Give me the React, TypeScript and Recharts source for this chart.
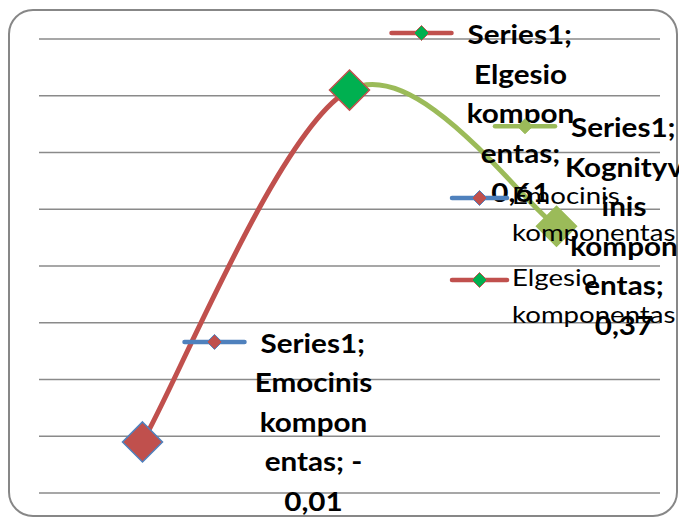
import React from "react";
import { LineChart, Line, XAxis, YAxis, CartesianGrid, LabelList, Legend } from "recharts";

const seriesName = "Series1";
const categories = ["Emocinis komponentas", "Elgesio komponentas", "Kognityvinis komponentas"];
const values = [-0.01, 0.61, 0.37];
const yTicks = [-0.1, 0, 0.1, 0.2, 0.3, 0.4, 0.5, 0.6, 0.7];
const labelLines = [
  [seriesName + ";", "Emocinis", "kompon", "entas; -", "0,01"],
  [seriesName + ";", "Elgesio", "kompon", "entas;", "0,61"],
  [seriesName + ";", "Kognityv", "inis", "kompon", "entas;", "0,37"],
];
const legendLines = [
  ["Emocinis", "komponentas"],
  ["Elgesio", "komponentas"],
];

const pointFill = ["#C0504D", "#00B050", "#9BBB59"];
const pointStroke = ["#4F81BD", "#C0504D", "#9BBB59"];
const keyLine = ["#4F81BD", "#C0504D", "#9BBB59"];

const W = 679;
const H = 517;
const FONT = "Lato, Carlito, Calibri, sans-serif";

const data = categories.map((name, i) => ({ name, value: values[i] }));

// Excel-like smoothing (Catmull-Rom style bezier, k = 1/6)
const excelCurve = (context: any) => {
  let pts: number[][] = [];
  return {
    areaStart() {},
    areaEnd() {},
    lineStart() {
      pts = [];
    },
    point(x: number, y: number) {
      pts.push([+x, +y]);
    },
    lineEnd() {
      if (!pts.length) return;
      const k = 1 / 6;
      context.moveTo(pts[0][0], pts[0][1]);
      for (let i = 0; i < pts.length - 1; i++) {
        const p0 = pts[i - 1] || pts[i];
        const p1 = pts[i];
        const p2 = pts[i + 1];
        const p3 = pts[i + 2] || p2;
        context.bezierCurveTo(
          p1[0] + (p2[0] - p0[0]) * k,
          p1[1] + (p2[1] - p0[1]) * k,
          p2[0] - (p3[0] - p1[0]) * k,
          p2[1] - (p3[1] - p1[1]) * k,
          p2[0],
          p2[1]
        );
      }
    },
  };
};

const diamond = (cx: number, cy: number, r: number) =>
  `${cx},${cy - r} ${cx + r},${cy} ${cx},${cy + r} ${cx - r},${cy}`;

const SText = ({ x, y, anchor, sx, weight, size, children }: any) => (
  <text
    transform={`translate(${x} ${y}) scale(${sx} 1)`}
    textAnchor={anchor}
    fontFamily={FONT}
    fontWeight={weight}
    fontSize={size}
    fill="#000"
  >
    {children}
  </text>
);

const renderDot = (props: any) => {
  const { cx, cy, index } = props;
  return (
    <polygon
      key={`dot-${index}`}
      points={diamond(cx, cy, 20)}
      fill={pointFill[index]}
      stroke={pointStroke[index]}
      strokeWidth={1.5}
    />
  );
};

const renderLabel = (props: any) => {
  const { x, y, index } = props;
  const keyX = Math.min(x + 42, W - 184);
  const keyY = Math.max(y - 100, 33);
  const lines = labelLines[index];
  return (
    <g key={`lbl-${index}`}>
      <line x1={keyX} x2={keyX + 60} y1={keyY} y2={keyY} stroke={keyLine[index]} strokeWidth={4.5} strokeLinecap="round" />
      <polygon points={diamond(keyX + 30, keyY, 7.5)} fill={pointFill[index]} stroke={pointStroke[index]} strokeWidth={1} />
      {lines.map((t, i) =>
        i === 0 ? (
          <SText key={i} x={keyX + 76} y={keyY + 11} anchor="start" sx={1.14} weight="bold" size={26}>
            {t}
          </SText>
        ) : (
          <SText key={i} x={keyX + 129} y={keyY + 11 + i * 39.5} anchor="middle" sx={1.14} weight="bold" size={26}>
            {t}
          </SText>
        )
      )}
    </g>
  );
};

const renderLegend = () => (
  <svg width={W} height={H} style={{ position: "absolute", left: 0, top: 0, pointerEvents: "none" }}>
    {legendLines.map((lines, idx) => {
      const ky = 198 + idx * 82;
      return (
        <g key={idx}>
          <line x1={452} x2={507} y1={ky} y2={ky} stroke={keyLine[idx]} strokeWidth={4.5} strokeLinecap="round" />
          <polygon points={diamond(479.5, ky, 7.5)} fill={pointFill[idx]} stroke={pointStroke[idx]} strokeWidth={1} />
          {lines.map((t, i) => (
            <SText key={i} x={512} y={ky + 6 + i * 37} anchor="start" sx={1.15} weight="normal" size={24}>
              {t}
            </SText>
          ))}
        </g>
      );
    })}
  </svg>
);

export default function App() {
  return (
    <div style={{ position: "absolute", left: 0, top: 0, width: W, height: H, overflow: "hidden", background: "#fff" }}>
      <div
        style={{
          position: "absolute",
          left: 8,
          top: 9,
          width: 670,
          height: 508,
          boxSizing: "border-box",
          border: "2px solid #878787",
          borderRadius: 25,
        }}
      />
      <div style={{ position: "absolute", left: 0, top: 0 }}>
        <LineChart width={W} height={H} data={data} margin={{ top: 39, right: 19, bottom: 24, left: 39 }}>
          <defs>
            <linearGradient id="segGrad" x1="0" y1="0" x2="1" y2="0">
              <stop offset="0%" stopColor="#C0504D" />
              <stop offset="50%" stopColor="#C0504D" />
              <stop offset="50%" stopColor="#9BBB59" />
              <stop offset="100%" stopColor="#9BBB59" />
            </linearGradient>
          </defs>
          <CartesianGrid vertical={false} stroke="#8a8a8a" strokeWidth={1.5} />
          <XAxis dataKey="name" type="category" hide padding={{ left: 103.5, right: 103.5 }} />
          <YAxis type="number" domain={[-0.1, 0.7]} ticks={yTicks} hide allowDataOverflow />
          <Legend
            layout="horizontal"
            verticalAlign="middle"
            align="center"
            content={renderLegend}
            wrapperStyle={{ position: "absolute", left: 0, top: 0, width: W, height: H, pointerEvents: "none" }}
          />
          <Line
            dataKey="value"
            type={excelCurve as any}
            stroke="url(#segGrad)"
            strokeWidth={5}
            dot={renderDot}
            activeDot={false}
            isAnimationActive={false}
          >
            <LabelList dataKey="value" content={renderLabel} />
          </Line>
        </LineChart>
      </div>
    </div>
  );
}
